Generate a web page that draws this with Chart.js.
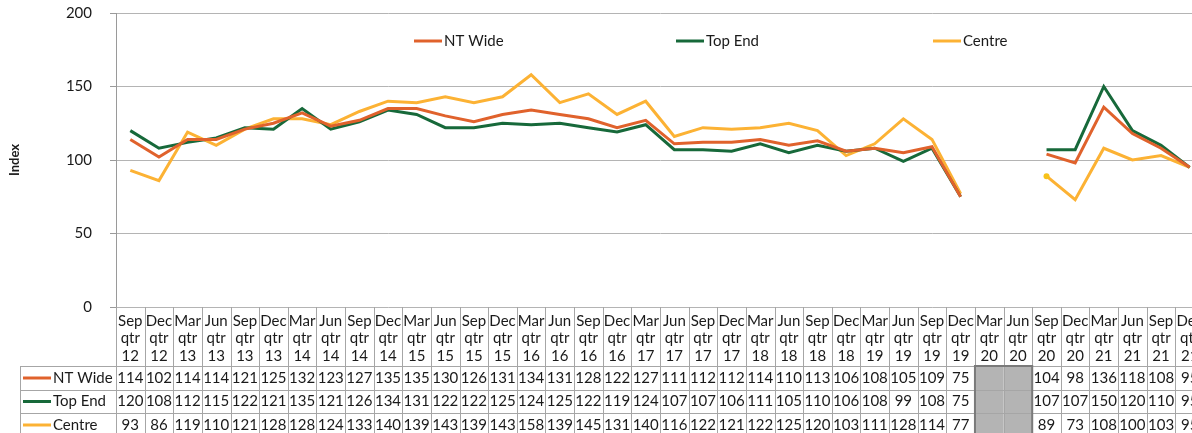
<!DOCTYPE html>
<html>
<head>
<meta charset="utf-8">
<script src="https://cdn.jsdelivr.net/npm/chart.js@4.4.1/dist/chart.umd.min.js"></script>
<style>
html, body { margin:0; padding:0; background:#fff; overflow:hidden; }
#wrap { position:absolute; left:0; top:-14px; width:1204px; height:454px; }
</style>
</head>
<body>
<div id="wrap"><canvas id="myChart"></canvas></div>
<script>
var quarters = ['Sep','Dec','Mar','Jun','Sep','Dec','Mar','Jun','Sep','Dec','Mar','Jun','Sep','Dec','Mar','Jun','Sep','Dec','Mar','Jun',
                'Sep','Dec','Mar','Jun','Sep','Dec','Mar','Jun','Sep','Dec','Mar','Jun','Sep','Dec','Mar','Jun','Sep','Dec'];
var years = ['12','12','13','13','13','13','14','14','14','14','15','15','15','15','16','16','16','16','17','17',
             '17','17','18','18','18','18','19','19','19','19','20','20','20','20','21','21','21','21'];

var ntWide = [114,102,114,114,121,125,132,123,127,135,135,130,126,131,134,131,128,122,127,111,
              112,112,114,110,113,106,108,105,109,75,null,null,104,98,136,118,108,95];
var topEnd = [120,108,112,115,122,121,135,121,126,134,131,122,122,125,124,125,122,119,124,107,
              107,106,111,105,110,106,108,99,108,75,null,null,107,107,150,120,110,95];
var centre = [93,86,119,110,121,128,128,124,133,140,139,143,139,143,158,139,145,131,140,116,
              122,121,122,125,120,103,111,128,114,77,null,null,89,73,108,100,103,95];

var seriesNames = ['NT Wide','Top End','Centre'];
var colores = ['#e0622c','#17693a','#fcb234'];

var labels = [];
for (var i = 0; i < quarters.length; i++) {
    labels.push([quarters[i], 'qtr', years[i]]);
}

var fuente = 'Lato';
var txtColor = '#1a1a1a';

// legend inside the plot + data table under it
var tablaPlugin = {
    id: 'tabla',
    afterDraw: function(chart) {
        var ctx = chart.ctx;
        var x = chart.scales.x;
        var area = chart.chartArea;
        var step = x.getPixelForValue(1) - x.getPixelForValue(0);
        var top = area.bottom;
        var rows = [top, top + 59, top + 83, top + 106, top + 130];
        var leftCol = 20;
        var datos = chart.data.datasets;

        ctx.save();

        // shaded cells where there is no data
        for (var i = 0; i < labels.length; i++) {
            var vacio = datos.every(function(d) { return d.data[i] === null; });
            if (vacio) {
                var cx = x.getPixelForValue(i);
                ctx.fillStyle = '#b4b4b4';
                ctx.fillRect(cx - step / 2, rows[1], step, rows[4] - rows[1]);
            }
        }

        ctx.strokeStyle = '#a6a6a6';
        ctx.lineWidth = 1;
        ctx.beginPath();
        // horizontal lines
        for (var r = 1; r < 4; r++) {
            ctx.moveTo(leftCol, Math.round(rows[r]) + 0.5);
            ctx.lineTo(area.right, Math.round(rows[r]) + 0.5);
        }
        // vertical lines
        for (var i = 0; i <= labels.length; i++) {
            var vx = Math.round(x.getPixelForValue(i) - step / 2) + 0.5;
            ctx.moveTo(vx, rows[0]);
            ctx.lineTo(vx, rows[4]);
        }
        ctx.moveTo(leftCol + 0.5, rows[1]);
        ctx.lineTo(leftCol + 0.5, rows[4]);
        ctx.stroke();

        // border round the empty block
        var ini = -1, fin = -1;
        for (var i = 0; i < labels.length; i++) {
            if (datos.every(function(d) { return d.data[i] === null; })) {
                if (ini < 0) ini = i;
                fin = i;
            }
        }
        if (ini >= 0) {
            ctx.strokeStyle = '#7a7a7a';
            ctx.lineWidth = 2;
            var bx0 = x.getPixelForValue(ini) - step / 2;
            var bx1 = x.getPixelForValue(fin) + step / 2;
            ctx.strokeRect(bx0, rows[1], bx1 - bx0, rows[4] - rows[1]);
        }

        // header text
        ctx.fillStyle = txtColor;
        ctx.font = '15px ' + fuente;
        ctx.textAlign = 'center';
        ctx.textBaseline = 'middle';
        for (var i = 0; i < labels.length; i++) {
            var cx = x.getPixelForValue(i);
            ctx.fillText(labels[i][0], cx, top + 14);
            ctx.fillText(labels[i][1], cx, top + 31);
            ctx.fillText(labels[i][2], cx, top + 49);
        }

        // values
        for (var k = 0; k < datos.length; k++) {
            var cy = (rows[k + 1] + rows[k + 2]) / 2;
            for (var i = 0; i < labels.length; i++) {
                var v = datos[k].data[i];
                if (v === null) continue;
                ctx.fillText(String(v), x.getPixelForValue(i), cy);
            }
            // row legend
            ctx.strokeStyle = datos[k].borderColor;
            ctx.lineWidth = 3;
            ctx.beginPath();
            ctx.moveTo(23, cy);
            ctx.lineTo(51, cy);
            ctx.stroke();
            ctx.textAlign = 'left';
            ctx.fillText(datos[k].label, 53, cy);
            ctx.textAlign = 'center';
        }

        // legend inside the plot
        var legX = [414, 676, 933];
        var legY = area.top + 28;
        ctx.textAlign = 'left';
        for (var k = 0; k < datos.length; k++) {
            ctx.strokeStyle = datos[k].borderColor;
            ctx.lineWidth = 3;
            ctx.beginPath();
            ctx.moveTo(legX[k], legY);
            ctx.lineTo(legX[k] + 28, legY);
            ctx.stroke();
            ctx.fillText(datos[k].label, legX[k] + 30, legY);
        }

        ctx.restore();
    }
};

function creargraf() {
    var ctx = document.getElementById('myChart').getContext('2d');
    var puntos = centre.map(function(v, i) { return i === 32 ? 3 : 0; });
    new Chart(ctx, {
        type: 'line',
        data: {
            labels: labels,
            datasets: [{
                label: seriesNames[0],
                data: ntWide,
                borderColor: colores[0],
                backgroundColor: colores[0],
                borderWidth: 3,
                pointRadius: 0
            }, {
                label: seriesNames[1],
                data: topEnd,
                borderColor: colores[1],
                backgroundColor: colores[1],
                borderWidth: 3,
                pointRadius: 0
            }, {
                label: seriesNames[2],
                data: centre,
                borderColor: colores[2],
                backgroundColor: '#f7c21a',
                borderWidth: 3,
                pointRadius: puntos,
                pointBorderWidth: 0
            }]
        },
        options: {
            responsive: true,
            maintainAspectRatio: false,
            animation: false,
            spanGaps: false,
            layout: { padding: { top: 0, bottom: 133, left: 0, right: 0 } },
            plugins: {
                legend: { display: false },
                tooltip: { enabled: false }
            },
            scales: {
                x: {
                    display: false,
                    offset: true
                },
                y: {
                    min: 0,
                    max: 200,
                    ticks: {
                        stepSize: 50,
                        padding: 18,
                        color: txtColor,
                        font: { family: fuente, size: 15 }
                    },
                    grid: {
                        color: '#b4b4b4',
                        tickLength: 6,
                        tickColor: '#9a9a9a'
                    },
                    border: { color: '#9a9a9a' },
                    title: {
                        display: true,
                        text: 'Index',
                        color: txtColor,
                        font: { family: fuente, size: 13, weight: 'bold' },
                        padding: { top: 7, bottom: 0 }
                    },
                    afterFit: function(scale) { scale.width = 116; }
                }
            }
        },
        plugins: [tablaPlugin]
    });
}

window.onload = function() {
    creargraf();
};
</script>
</body>
</html>
